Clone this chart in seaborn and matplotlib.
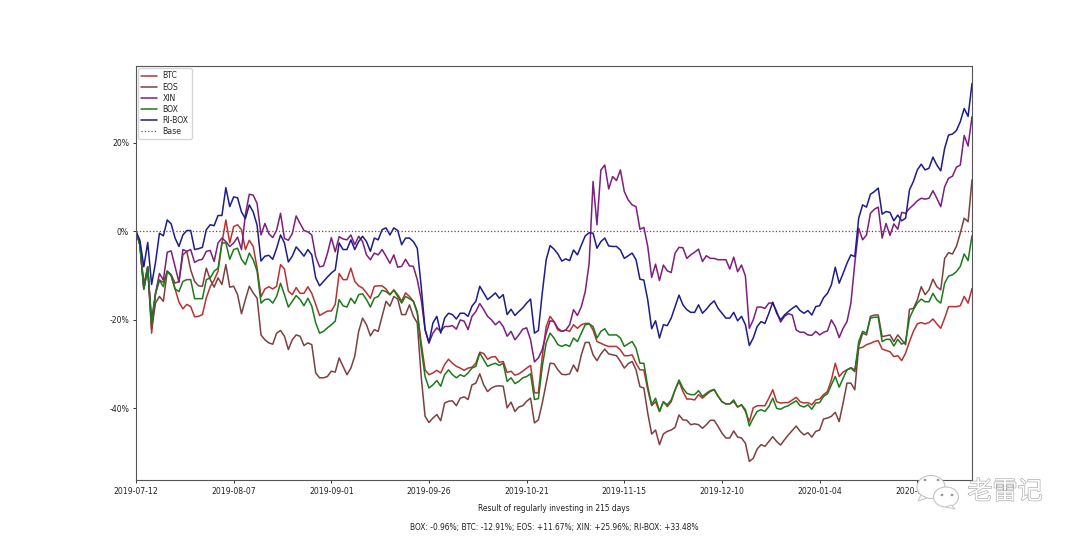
import matplotlib
matplotlib.use("Agg")
import matplotlib.pyplot as plt
import matplotlib.patheffects as pe
from matplotlib.patches import Ellipse, Polygon
import pandas as pd
import seaborn as sns

tick_dates = ['2019-07-12', '2019-08-07', '2019-09-01', '2019-09-26', '2019-10-21',
              '2019-11-15', '2019-12-10', '2020-01-04', '2020-01-29']
y_ticks = [-40, -20, 0, 20]

# values, percent, one per day
btc = [0, -3, -12, -8, -23, -14, -11, -11.5, -9, -10, -13, -16, -17.5, -16.5, -17, -19.3, -19.2, -18.8, -15, -12.5,
       -11, -9, -2.6, 2.6, -2.6, 1.1, 1.5, 0.4, -4.1, -2, -3.4, -8.3, -14.8, -13, -12.5, -13, -12.4, -7.5, -8.5, -13.5,
       -14.3, -12.7, -14, -14, -12.5, -14, -16.5, -19, -18.5, -18, -18, -16.5, -9.5,
       -10.9, -10.9, -8.3, -11.3, -12.3, -12.8, -13.9, -15.1, -12.4, -12.3, -12.3, -13.0, -14.3, -13.2, -14.3, -15.8, -13.9, -14.7, -15.8, -18.1,
       -25.2, -31.3, -32.4, -32.0, -31.4, -32.0, -30.1, -28.9, -29.8, -30.5, -30.9, -31.4, -30.9, -30.7, -29.8, -27.3, -27.6, -28.9, -28.4, -28.3,
       -29.6, -29.4, -31.9, -31.6, -32.5, -32.2, -31.6, -30.9, -30.3, -36.5, -36.5, -28.2, -21.5, -19.2,
       -20.4, -22.3, -22.6, -22.3, -22.6, -21.1, -21.9, -21.1, -20.8, -20.8, -22.3, -24.9, -25.3, -25.7, -26.0, -26.0, -26.0, -26.8, -28.1, -28.1,
       -27.9, -29.8, -31.3, -31.3, -35.8, -39.4, -38.5, -40.7, -38.5, -39.6, -38.5, -35.8, -33.9, -36.2, -37.9, -37.9, -38.1, -36.9, -37.7, -36.9,
       -36.2, -35.8, -37.2, -38.5, -39.0, -39.0, -38.5, -39.7, -39.2, -40.7, -43.0, -39.9, -39.4, -39.4, -39.4, -37.7,
       -35.8, -38.5, -38.8, -38.7, -38.7, -38.1, -37.5, -38.5, -38.8, -38.7, -39.2, -38.1, -37.9, -36.9, -36.2, -33.6, -29.8, -32.8, -31.8, -31.3,
       -30.8, -31.3, -26.4, -26.2, -25.6, -25.3, -24.9, -24.7, -26.6, -26.9, -27.2, -28.3, -28.1, -29.2, -27.5, -24.9, -22.6, -20.9, -20.6, -20.9,
       -20.6, -19.8, -20.9, -21.9, -19.6, -17.0, -17.0, -17.0, -16.8, -14.7, -16.2, -12.91]

eos = [0, -3, -13, -8, -22, -16.2, -14.7, -15.8, -9, -9.8, -11.7, -11.3, -5.3, -4.5, -8.7, -11.3, -12.3, -12.4, -8.3, -10.9,
       -12.6, -10.5, -12, -7.5, -12.6, -12.4, -14.3, -18.6, -15.4, -12.4, -13.9, -15.1, -23.4, -24.5, -25.2, -25.5, -23, -22.4, -23.7, -26.7,
       -24.5, -23.4, -23.7, -25.8, -25.2, -25.6, -32, -33.1, -33.1, -32.8, -31.6, -31.8, -28.6,
       -30.5, -32.4, -30.9, -28.2, -22.6, -19.6, -21.1, -23.6, -22.2, -22.6, -19.2, -15.8, -16.9, -14.7, -15.3, -18.8, -18.8, -16.6, -19.2, -20.7,
       -32.8, -41.8, -43.2, -42.2, -41.4, -42.8, -38.8, -38.4, -38.3, -39.4, -37.7, -37.4, -38.0, -34.7, -34.3, -32.2, -34.7, -36.2, -35.4, -35.0,
       -34.9, -35.0, -39.9, -38.6, -40.7, -39.7, -39.4, -38.4, -37.7, -43.3, -42.6, -38.8, -34.3, -29.8,
       -29.9, -31.3, -32.3, -32.4, -32.2, -30.2, -31.7, -27.9, -25.1, -25.1, -27.9, -29.2, -27.7, -26.6, -27.7, -27.9, -28.1, -29.4, -30.9, -29.9,
       -29.4, -31.3, -35.1, -35.4, -41.1, -45.8, -44.9, -48.2, -45.8, -45.2, -44.9, -44.3, -41.5, -42.6, -42.7, -43.7, -43.5, -43.7, -44.5, -43.7,
       -42.7, -42.7, -44.1, -45.6, -46.7, -46.7, -45.1, -46.5, -46.7, -47.9, -52.0, -51.3, -49.2, -48.2, -48.6, -47.5,
       -46.4, -47.5, -48.3, -47.1, -46.0, -45.0, -44.0, -45.2, -46.0, -45.5, -46.5, -45.2, -44.9, -42.4, -42.2, -41.8, -40.9, -43.0, -38.8, -34.3,
       -34.3, -35.8, -26.0, -23.0, -23.4, -19.2, -18.9, -18.9, -23.8, -23.6, -23.4, -24.9, -23.4, -24.5, -25.6, -17.6, -17.4, -15.5, -12.5, -14.3,
       -13.2, -10.8, -12.5, -13.2, -6.1, -4.8, -5.1, -3.4, -0.4, 3.0, 2.2, 11.67]

xin = [0, -3, -13, -8.5, -20, -14, -9.5, -11, -4.7, -4.4, -8, -11.5, -4.1, -4.5, -4.1, -7, -6.5, -6.3, -4.5, -4.3,
       -6.8, -2.6, -1.5, -2.3, -3.4, -2.6, -1.3, -4.1, 3.8, 8.4, 8.2, 6.3, -0.8, 1.8, -0.5, -1.4, 0.3, 4.1, -1.6, -2,
       -0.5, 3.5, 1.8, 0.2, -0.1, -0.8, -5.7, -8, -7.8, -5, -1.4, -4.6, -1.2,
       -1.7, -1.9, -0.8, -3.0, -1.1, -2.3, -5.3, -6.4, -4.9, -5.3, -4.1, -5.6, -7.2, -5.3, -8.1, -7.9, -6.3, -7.8, -7.9, -10.9,
       -15.4, -22.2, -25.2, -23.0, -21.8, -22.6, -21.5, -21.5, -21.3, -22.1, -20.0, -20.3, -22.2, -19.2, -18.1, -16.3, -17.7, -19.2, -20.0, -21.1,
       -20.3, -21.5, -23.7, -22.6, -24.5, -23.4, -22.1, -21.8, -24.5, -29.5, -28.6, -26.7, -23.0, -20.2,
       -20.4, -21.9, -22.6, -22.3, -21.1, -17.7, -19.0, -17.0, -13.6, -7.2, 11.3, 1.5, 13.9, 15.0, 9.6, 12.4, 11.5, 13.9, 9.0, 7.1,
       6.0, 5.6, 0.5, 0.9, -3.4, -10.4, -7.4, -11.1, -7.6, -8.9, -9.3, -4.9, -3.6, -3.7, -6.1, -5.3, -4.7, -4.0, -6.8, -5.5,
       -6.1, -6.1, -6.4, -6.4, -6.4, -8.5, -5.8, -9.1, -7.6, -10.1, -21.9, -20.0, -17.1, -17.1, -17.4, -16.2,
       -16.2, -18.1, -20.5, -19.2, -18.6, -18.9, -22.3, -22.8, -22.8, -23.4, -23.5, -22.6, -23.4, -22.8, -22.5, -20.0, -21.5, -24.0, -21.9, -20.4,
       -16.2, -7.2, 0.7, -1.9, -0.8, 4.1, 5.0, 5.5, -1.5, 1.8, -0.9, 1.7, 0.5, 4.3, 4.1, 5.2, 6.0, 6.9, 7.5, 7.3,
       7.5, 9.2, 7.5, 5.6, 10.1, 12.0, 12.5, 14.5, 15.0, 21.7, 19.3, 25.96]

box = [0, -3, -13, -8, -21, -14, -11, -12.5, -9, -10, -13, -13.6, -11.3, -10.9, -10.9, -15.2, -15.2, -15.2, -10.9, -10.5,
       -9, -8.3, -2.6, -2.6, -6.3, -4.1, -3.8, -6.3, -7.5, -4.9, -6.4, -9, -16.2, -15.4, -15.3, -16.2, -14.7, -11.7, -14.3, -17.1,
       -15.8, -14.5, -15.4, -16.8, -15.1, -16.9, -20.7, -23, -22.6, -21.8, -21.1, -20.3, -15.4,
       -16.8, -17.1, -15.1, -16.3, -14.3, -14.1, -15.4, -17.1, -15.1, -14.7, -13.3, -13.6, -14.3, -13.3, -14.7, -16.2, -14.7, -15.2, -15.8, -18.5,
       -26.4, -32.8, -35.4, -34.7, -33.7, -35.0, -32.4, -31.3, -32.4, -33.1, -32.4, -32.8, -32.0, -30.9, -30.5, -27.5, -29.0, -30.5, -30.1, -29.8,
       -30.3, -29.8, -33.9, -33.1, -34.4, -33.9, -33.1, -32.8, -32.2, -38.0, -37.8, -30.5, -25.2, -23.0,
       -24.1, -25.6, -26.0, -25.6, -26.0, -24.1, -24.9, -23.0, -21.1, -20.9, -21.5, -24.1, -22.6, -22.0, -23.4, -23.4, -23.4, -24.1, -26.0, -25.4,
       -24.9, -26.4, -29.8, -29.8, -35.1, -39.2, -37.7, -40.7, -38.5, -39.2, -38.1, -35.8, -33.6, -35.4, -36.6, -36.9, -36.9, -36.0, -37.3, -36.6,
       -36.0, -35.7, -37.3, -38.5, -39.0, -39.0, -38.1, -39.7, -39.2, -40.3, -44.0, -42.2, -40.7, -40.3, -40.7, -39.6,
       -37.7, -40.0, -40.2, -39.7, -39.4, -38.8, -38.3, -39.4, -39.7, -39.2, -40.2, -38.8, -38.7, -37.3, -36.7, -34.7, -32.8, -35.2, -33.2, -31.3,
       -30.9, -31.7, -24.9, -22.6, -23.0, -19.6, -19.4, -19.4, -24.9, -24.4, -24.4, -25.9, -24.4, -25.5, -24.9, -19.6, -17.7, -16.2, -15.3, -15.9,
       -15.9, -14.0, -15.5, -16.2, -11.7, -10.1, -9.8, -9.1, -7.9, -5.1, -6.6, -0.96]

ri_box = [0, -2, -8, -2.5, -12, -7, -0.4, -1, 2.6, 1.7, -1.5, -3.4, -0.8, 0.2, 0.2, -4.1, -3.9, -3.6, 0.4, 1.5,
          1.3, 3.6, 3.6, 9.9, 5.6, 7.8, 7.6, 4.4, 2.9, 6, 4.4, 1.4, -6.7, -5.6, -5.4, -6.3, -3.8, -0.8, -2.6, -6.9,
          -5.6, -3.5, -4.5, -5.6, -4.1, -5.3, -10.5, -12.3, -11.3, -10.3, -9.4, -8.7, -2.6,
          -4.1, -4.1, -1.9, -4.1, -2.3, -1.1, -2.3, -4.5, -1.5, -1.9, 0.4, 0.8, -0.8, 0.8, 0.2, -3.0, -1.5, -1.5, -2.3, -3.8,
          -12.4, -22.2, -25.2, -20.7, -19.2, -23.0, -19.6, -18.5, -18.8, -19.8, -18.5, -18.5, -19.2, -16.9, -15.8, -12.4, -13.9, -15.4, -14.7, -13.9,
          -15.1, -14.3, -18.8, -17.6, -19.0, -18.1, -17.3, -16.2, -15.3, -23.0, -22.4, -13.9, -6.4, -3.2,
          -4.0, -5.1, -6.7, -6.2, -6.6, -4.2, -5.3, -3.1, -1.0, -0.3, -0.4, -3.8, -2.3, -1.5, -3.3, -3.4, -3.4, -4.2, -6.1, -5.5,
          -4.9, -6.4, -10.8, -11.0, -15.5, -22.0, -20.2, -24.1, -21.1, -21.3, -19.6, -17.0, -14.4, -16.6, -17.7, -18.3, -18.3, -16.6, -18.5, -17.6,
          -16.5, -15.7, -17.4, -18.5, -19.6, -19.6, -18.3, -20.2, -19.2, -21.1, -25.8, -24.1, -21.5, -20.4, -20.8, -18.5,
          -16.0, -18.5, -20.0, -18.9, -18.1, -17.4, -16.8, -17.9, -18.5, -17.9, -18.9, -17.0, -16.8, -15.0, -14.0, -12.1, -8.1, -11.7, -9.5, -7.2,
          -5.3, -5.7, 3.0, 6.0, 5.5, 8.4, 9.0, 9.8, 3.9, 4.5, 4.3, 2.4, 3.7, 2.4, 3.0, 9.4, 11.3, 13.9, 15.2, 13.9,
          14.3, 16.8, 15.0, 13.7, 18.8, 21.8, 22.0, 22.8, 24.8, 27.8, 26.0, 33.48]

colors = {'BTC': '#b83232', 'EOS': '#7d4040', 'XIN': '#7d1f7d', 'BOX': '#1c7a1c', 'RI-BOX': '#1c1c8c'}

df = pd.DataFrame({'BTC': btc, 'EOS': eos, 'XIN': xin, 'BOX': box, 'RI-BOX': ri_box})
df['day'] = df.index
long_df = df.melt(id_vars='day', var_name='coin', value_name='pct')

sns.set_style("white")
plt.rcParams['font.family'] = ['DejaVu Sans', 'Noto Sans CJK SC']

fig = plt.figure(figsize=(10.8, 5.4), dpi=100)
ax = fig.add_axes([136 / 1080, 1 - 480 / 540, 836 / 1080, 414 / 540])

sns.lineplot(data=long_df, x='day', y='pct', hue='coin', palette=colors,
             hue_order=list(colors), linewidth=1.1, errorbar=None, ax=ax)
ax.axhline(0, color='#7d4040', linestyle=':', linewidth=0.9, label='Base')

ax.set_xlim(0, len(btc) - 1)
ax.set_ylim(-56.2, 37.4)
ax.set_xticks(range(0, len(btc), 25))
ax.set_xticklabels(tick_dates)
ax.set_yticks(y_ticks)
ax.set_yticklabels([f'{v}%' for v in y_ticks])
ax.tick_params(labelsize=5.6, length=2.5, width=0.7, color='#333333', bottom=True, left=True, pad=2.5, labelcolor='#222222')
for s in ax.spines.values():
    s.set_color('#555555')
    s.set_linewidth(0.8)

ax.set_ylabel('')
ax.set_xlabel('Result of regularly investing in 215 days\n\nBOX: -0.96%; BTC: -12.91%; EOS: +11.67%; XIN: +25.96%; RI-BOX: +33.48%',
              fontsize=5.45, labelpad=6, color='#222222', linespacing=1.02)

ax.legend(loc='upper left', fontsize=5.6, title=None, borderaxespad=0.3, labelspacing=0.27,
          handlelength=2.0, handletextpad=0.7, borderpad=0.4)

# watermark
for (cx, cy, w, h) in [(931, 487, 28, 23), (946, 497, 25, 20)]:
    fig.add_artist(Ellipse((cx / 1080, 1 - cy / 540), w / 1080, h / 540, transform=fig.transFigure,
                           facecolor='white', edgecolor='#c4c4c4', linewidth=0.8, zorder=5))
for pts in [[(921, 495), (918, 501), (927, 498)], [(951, 505), (955, 509), (946, 507)]]:
    fig.add_artist(Polygon([(x / 1080, 1 - y / 540) for x, y in pts], transform=fig.transFigure,
                           facecolor='white', edgecolor='#c4c4c4', linewidth=0.7, zorder=5))
for (cx, cy) in [(925, 480), (938, 480), (942, 495), (952, 495)]:
    fig.add_artist(Ellipse((cx / 1080, 1 - cy / 540), 3 / 1080, 2.5 / 540, transform=fig.transFigure,
                           facecolor='#9a9a9a', edgecolor='none', zorder=6))
fig.text(1005 / 1080, 1 - 492 / 540, '老雷记', fontsize=18, family=['Noto Sans CJK SC', 'DejaVu Sans'],
         color='white', ha='center', va='center', zorder=6,
         path_effects=[pe.withStroke(linewidth=0.9, foreground='#a8a8a8')])

fig.savefig('out.png', dpi=100)
